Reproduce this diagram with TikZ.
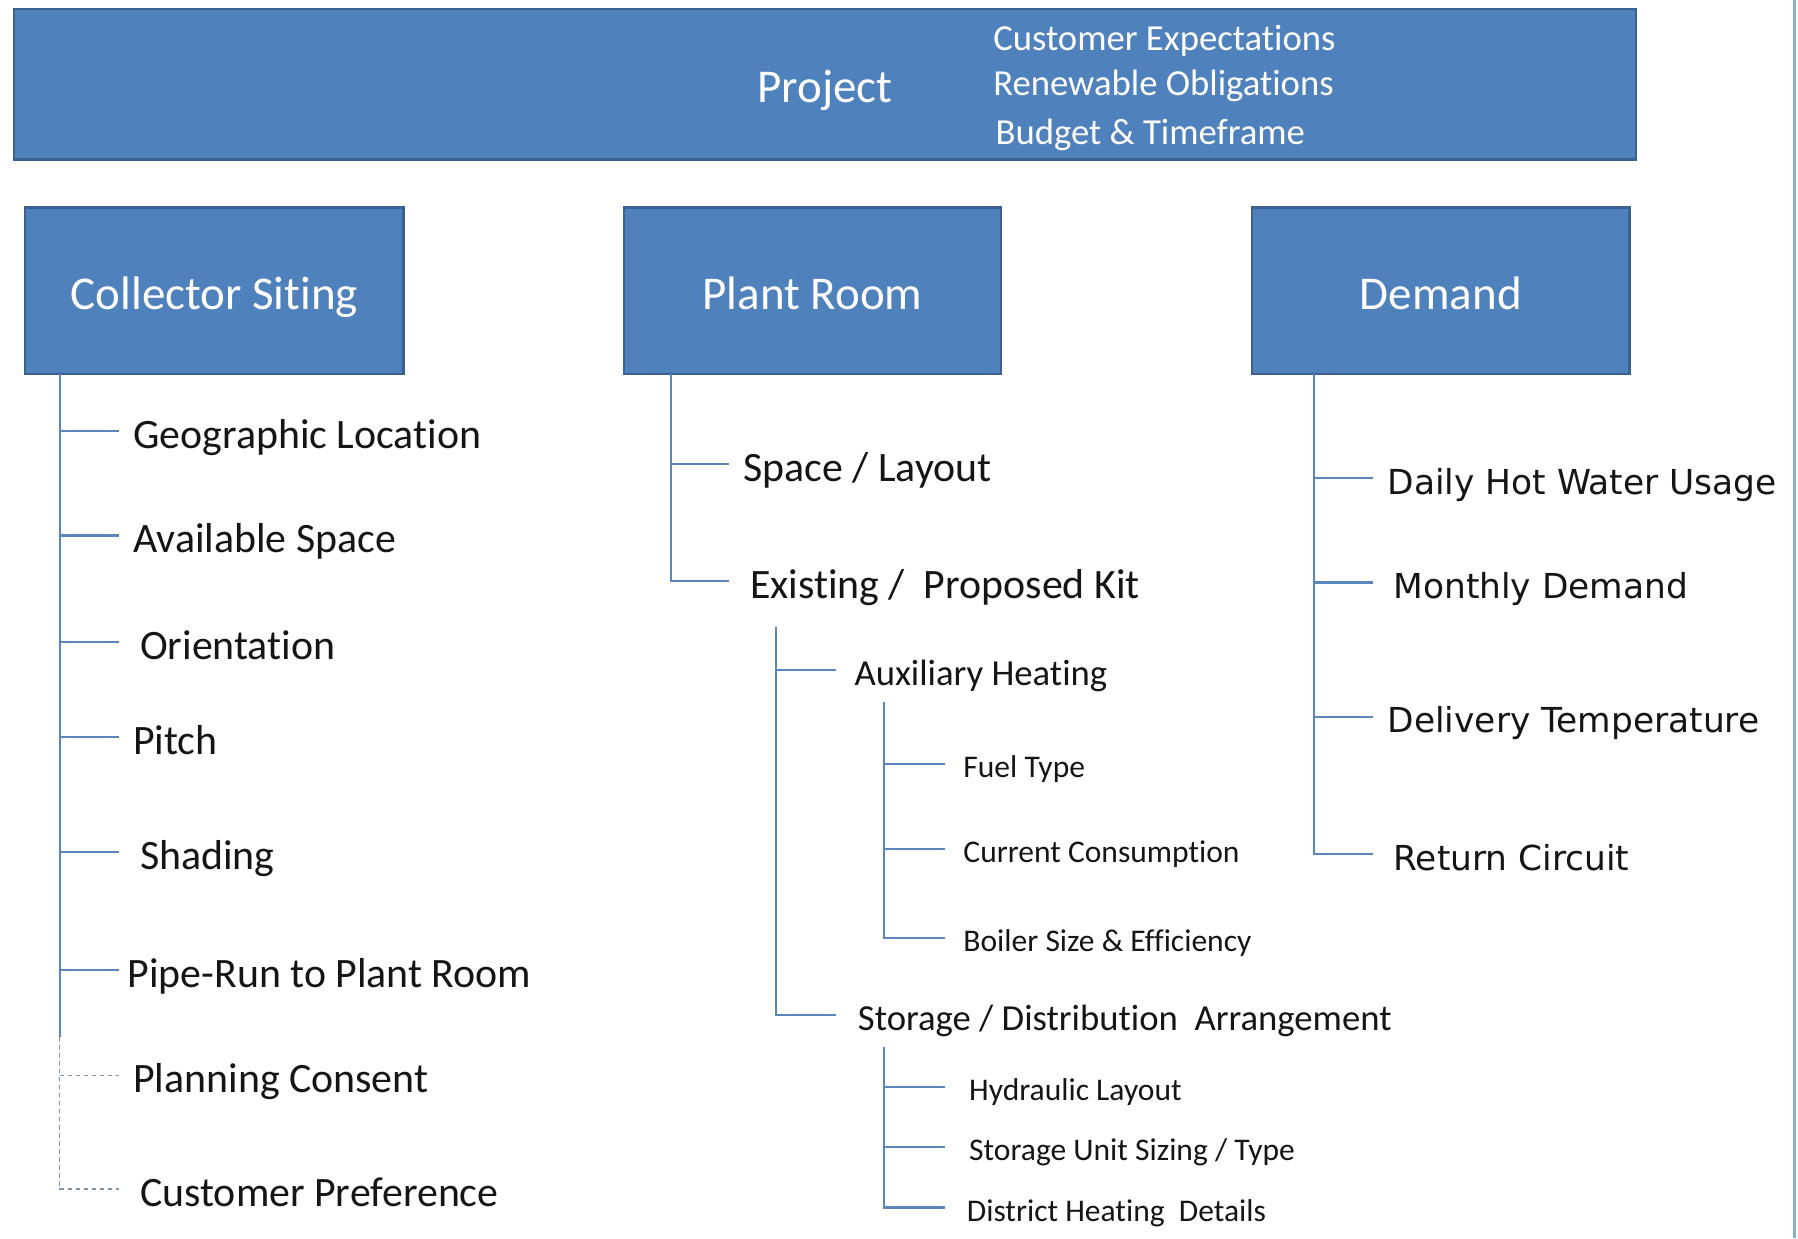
\documentclass[tikz,border=0pt]{standalone}
\usepackage{fontspec}
\setmainfont{Carlito}[Ligatures=NoCommon]
\newfontfamily\widesans{DejaVu Sans}
\definecolor{boxfill}{HTML}{4F81BD}
\definecolor{boxedge}{HTML}{3A618F}
\definecolor{linkblue}{HTML}{5A86BE}
\definecolor{dashgray}{HTML}{7F93AE}
\definecolor{edgeline}{HTML}{86B0CB}
\definecolor{itemtext}{HTML}{151515}
\begin{document}
\begin{tikzpicture}[x=1pt,y=-1pt,
  headbox/.style={draw=boxedge,fill=boxfill,line width=2pt,outer sep=0pt,inner sep=0pt,
    text=white,font={\fontsize{41}{44}\selectfont},text height=32pt,text depth=0pt},
  toptext/.style={anchor=west,inner sep=0pt,text=white,font={\fontsize{32}{34}\selectfont},
    text height=28pt,text depth=0pt},
  item/.style={anchor=west,inner sep=0pt,text=itemtext,text depth=0pt},
  bigitem/.style={item,font={\fontsize{36.5}{40}\selectfont},text height=30pt},
  miditem/.style={item,font={\fontsize{32}{34}\selectfont},text height=27pt},
  smallitem/.style={item,font={\fontsize{27.5}{30}\selectfont},text height=24pt},
  demitem/.style={item,font={\widesans\fontsize{30}{33}\selectfont},text height=28pt},
  conn/.style={draw=linkblue,line width=1.8pt},
  dconn/.style={draw=dashgray,line width=1.4pt,dash pattern=on 4pt off 3pt}]
\useasboundingbox (0,0) rectangle (1568,1080);
\fill[white] (0,0) rectangle (1568,1080);
\draw[edgeline,line width=3pt] (1565,0) -- (1565,1080);

% top banner
\node[headbox,minimum width=1415pt,minimum height=131pt] (project) at (719.5,73.5) {Project};
\node[toptext] (expect) at (866,30) {Customer Expectations};
\node[toptext] (oblig) at (866,69) {Renewable Obligations};
\node[toptext] (budget) at (868,112) {Budget \& Timeframe};

% column heads
\node[headbox,minimum width=330pt,minimum height=145pt] (siting) at (187,253.5) {Collector Siting};
\node[headbox,minimum width=329pt,minimum height=145pt] (plant) at (708.5,253.5) {Plant Room};
\node[headbox,minimum width=329pt,minimum height=145pt] (demand) at (1256.5,253.5) {Demand};

% collector siting items
\node[bigitem] (geo) at (116,376) {Geographic Location};
\node[bigitem] (space) at (116,467) {Available Space};
\node[bigitem] (orient) at (122,560) {Orientation};
\node[bigitem] (pitch) at (116,643) {Pitch};
\node[bigitem] (shading) at (122,743) {Shading};
\node[bigitem] (piperun) at (111,846) {Pipe-Run to Plant Room};
\node[bigitem] (planning) at (116,938) {Planning Consent};
\node[bigitem] (custpref) at (122,1037) {Customer Preference};

\coordinate (sitingtrunk) at ([xshift=30pt]siting.south west);
\coordinate (sitingtip) at (104,0);
\foreach \n in {geo,space,orient,pitch,shading,piperun}
  \draw[conn] (sitingtrunk) |- (\n.west -| sitingtip);
\draw[conn] (piperun.west -| sitingtrunk) -- ++(0,58);
\draw[dconn] ([yshift=-58pt]piperun.west -| sitingtrunk) |- (custpref.west -| sitingtip);
\draw[dconn] (planning.west -| sitingtrunk) -- (planning.west -| sitingtip);

% plant room items
\node[bigitem] (layout) at (648,405) {Space / Layout};
\node[bigitem] (kit) at (654,507) {Existing /\ \ Proposed Kit};
\node[miditem] (aux) at (745,584) {Auxiliary Heating};
\node[miditem] (storage) at (748,885) {Storage / Distribution\ \ Arrangement};
\node[smallitem] (fuel) at (840,666) {Fuel Type};
\node[smallitem] (consump) at (840,740) {Current Consumption};
\node[smallitem] (boiler) at (840,818) {Boiler Size \& Efficiency};
\node[smallitem] (hydraulic) at (845,948) {Hydraulic Layout};
\node[smallitem] (sizing) at (845,1000) {Storage Unit Sizing / Type};
\node[smallitem] (district) at (843,1053) {District Heating\ \ Details};

\coordinate (planttrunk) at ([xshift=41pt]plant.south west);
\coordinate (planttip) at (636,0);
\foreach \n in {layout,kit}
  \draw[conn] (planttrunk) |- (\n.west -| planttip);
\coordinate (kittrunk) at (677,547);
\coordinate (kittip) at (729,0);
\foreach \n in {aux,storage}
  \draw[conn] (kittrunk) |- (\n.west -| kittip);
\coordinate (auxtrunk) at (771,612);
\coordinate (subtip) at (824,0);
\foreach \n in {fuel,consump,boiler}
  \draw[conn] (auxtrunk) |- (\n.west -| subtip);
\coordinate (storetrunk) at (771,913);
\foreach \n in {hydraulic,sizing,district}
  \draw[conn] (storetrunk) |- (\n.west -| subtip);

% demand items
\node[demitem] (daily) at (1210,417) {Daily Hot Water Usage};
\node[demitem] (monthly) at (1215,508) {Monthly Demand};
\node[demitem] (delivery) at (1210,625) {Delivery Temperature};
\node[demitem] (return) at (1215,745) {Return Circuit};

\coordinate (demandtrunk) at ([xshift=54pt]demand.south west);
\coordinate (demandtip) at (1197,0);
\foreach \n in {daily,monthly,delivery,return}
  \draw[conn] (demandtrunk) |- (\n.west -| demandtip);
\end{tikzpicture}
\end{document}
